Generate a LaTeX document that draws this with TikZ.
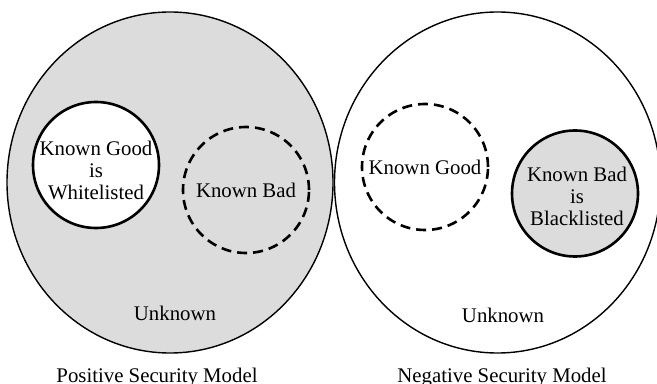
\documentclass[tikz,border=0pt]{standalone}
\usepackage{fontspec}
\setmainfont{Liberation Serif}
\usetikzlibrary{shapes.geometric}
\usetikzlibrary{positioning}
\definecolor{lightgrey}{RGB}{220,220,220}
\tikzset{model/.style={draw,ellipse,line width=0.7pt,minimum width=163pt,minimum height=170.5pt,inner sep=0pt}}
\tikzset{set/.style={draw,circle,line width=1.3pt,minimum size=63pt,inner sep=0pt,align=center}}

\begin{document}
\begin{tikzpicture}
    [
      x=0.5pt, y=-0.5pt,
      every node/.style = {font=\fontsize{10.4}{11}\selectfont},
      known/.style = {set, solid},
      guess/.style = {set, dash pattern=on 5pt off 3pt},
    ]
    \useasboundingbox (0,0) rectangle (657,384);

    % positive security model
    \node [model,fill=lightgrey] (pos) at (170,182.5) {};
    \node [known,fill=white] (posgood) at (96,165) {};
    \node [align=center] (posgoodtxt) at (96,170) {Known Good\\is\\Whitelisted};
    \node [guess] (posbad) at (246,190) {Known Bad};
    \node [anchor=base] (posunk) at (175,320) {Unknown};
    \node [anchor=base] (poscap) at (157,382) {Positive Security Model};

    % negative security model
    \node [model] (neg) at (497.5,182.5) {};
    \node [guess] (neggood) at (425,167) {Known Good};
    \node [known,fill=lightgrey] (negbad) at (575,193.5) {};
    \node [align=center] (negbadtxt) at (577,196) {Known Bad\\is\\Blacklisted};
    \node [anchor=base] (negunk) at (503,322) {Unknown};
    \node [anchor=base] (negcap) at (502,382) {Negative Security Model};

  \end{tikzpicture}
\end{document}
